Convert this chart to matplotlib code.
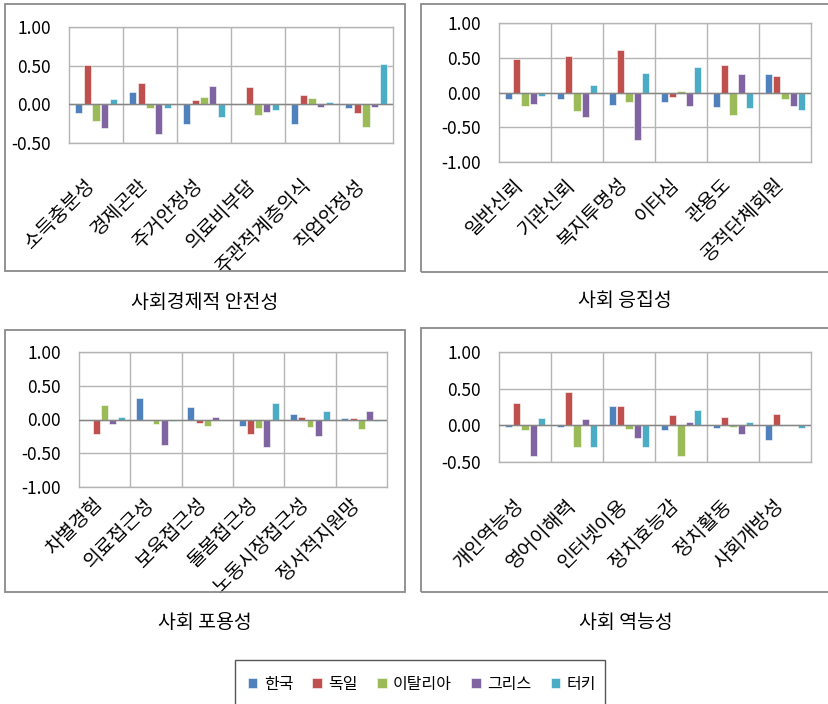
import numpy as np
import matplotlib
matplotlib.use('Agg')
import matplotlib.pyplot as plt
import matplotlib.patches as mpatches
import matplotlib.ticker as ticker

plt.rcParams['font.family'] = ['Noto Sans CJK KR', 'DejaVu Sans']

# 범례 (국가)
countries = ['한국', '독일', '이탈리아', '그리스', '터키']
colors = ['#4F81BD', '#C0504D', '#9BBB59', '#8064A2', '#4BACC6']

# 사회경제적 안전성
cats_1 = ['소득충분성', '경제곤란', '주거안정성', '의료비부담', '주관적계층의식', '직업안정성']
vals_1 = [
    [-0.11, 0.16, -0.26, 0.01, -0.26, -0.05],   # 한국
    [0.51, 0.28, 0.05, 0.22, 0.12, -0.11],      # 독일
    [-0.21, -0.05, 0.09, -0.14, 0.08, -0.29],   # 이탈리아
    [-0.31, -0.39, 0.24, -0.10, -0.04, -0.03],  # 그리스
    [0.07, -0.05, -0.16, -0.07, 0.03, 0.52],    # 터키
]

# 사회 응집성
cats_2 = ['일반신뢰', '기관신뢰', '복지투명성', '이타심', '관용도', '공적단체회원']
vals_2 = [
    [-0.10, -0.10, -0.18, -0.13, -0.21, 0.27],
    [0.48, 0.52, 0.61, -0.06, 0.39, 0.24],
    [-0.19, -0.26, -0.13, 0.02, -0.32, -0.10],
    [-0.17, -0.35, -0.69, -0.20, 0.27, -0.20],
    [-0.05, 0.11, 0.28, 0.36, -0.23, -0.25],
]

# 사회 포용성
cats_3 = ['차별경험', '의료접근성', '보육접근성', '돌봄접근성', '노동시장접근성', '정서적지원망']
vals_3 = [
    [0.00, 0.32, 0.19, -0.10, 0.08, 0.02],
    [-0.21, 0.00, -0.05, -0.22, 0.04, 0.02],
    [0.21, -0.07, -0.10, -0.13, -0.11, -0.14],
    [-0.06, -0.38, 0.03, -0.40, -0.25, 0.13],
    [0.04, -0.02, 0.00, 0.25, 0.13, -0.02],
]

# 사회 역능성
cats_4 = ['개인역능성', '영어이해력', '인터넷이용', '정치효능감', '정치활동', '사회개방성']
vals_4 = [
    [-0.02, -0.02, 0.26, -0.06, -0.04, -0.20],
    [0.30, 0.46, 0.26, 0.14, 0.12, 0.15],
    [-0.06, -0.30, -0.05, -0.42, -0.02, 0.00],
    [-0.42, 0.08, -0.17, 0.04, -0.12, 0.00],
    [0.10, -0.30, -0.29, 0.21, 0.04, -0.03],
]

titles = ['사회경제적 안전성', '사회 응집성', '사회 포용성', '사회 역능성']

W, H = 829, 704
fig = plt.figure(figsize=(W / 100, H / 100), dpi=100)


def px_axes(l, t, r, b):
    return fig.add_axes([l / W, 1 - b / H, (r - l) / W, (b - t) / H])


def px_rect(l, t, r, b, **kw):
    fig.patches.append(mpatches.Rectangle((l / W, 1 - b / H), (r - l) / W, (b - t) / H,
                                          transform=fig.transFigure, fill=False, **kw))


# 패널 테두리
px_rect(5, 4, 405, 271, edgecolor='#8a8a8a', linewidth=1.3)
px_rect(421, 4, 832, 272, edgecolor='#8a8a8a', linewidth=1.3)
px_rect(5, 330, 405, 592, edgecolor='#8a8a8a', linewidth=1.3)
px_rect(421, 328, 832, 592, edgecolor='#8a8a8a', linewidth=1.3)

panels = [
    (cats_1, vals_1, (69, 27, 393, 143), (-0.5, 1.0), 23, (205, 302)),
    (cats_2, vals_2, (499, 23, 811, 162), (-1.0, 1.0), 9, (625, 300)),
    (cats_3, vals_3, (79, 352, 387, 487), (-1.0, 1.0), 5, (205, 622)),
    (cats_4, vals_4, (499, 352, 811, 462), (-0.5, 1.0), 24, (626, 622)),
]

handles = []
for k, (cats, vals, box, ylim, pad, cap) in enumerate(panels):
    ax = px_axes(*box)
    x = np.arange(len(cats))
    for j, (name, c) in enumerate(zip(countries, colors)):
        b = ax.bar(x + (j - 2) * 0.16, vals[j], width=0.135, color=c,
                   edgecolor='white', linewidth=0.4, label=name, zorder=3)
        if k == 0:
            handles.append(b)
    ax.axhline(0, color='#868686', linewidth=1.0, zorder=4)
    ax.set_xlim(-0.5, len(cats) - 0.5)
    ax.set_ylim(*ylim)
    ax.yaxis.set_major_locator(ticker.MultipleLocator(0.5))
    ax.yaxis.set_major_formatter(ticker.FormatStrFormatter('%.2f'))
    ax.set_xticks(x + 0.05)
    ax.set_xticklabels(cats, rotation=45, ha='right', va='top', fontsize=14)
    ax.set_xticks(np.arange(len(cats) - 1) + 0.5, minor=True)
    ax.tick_params(axis='x', which='both', length=0, pad=pad)
    ax.tick_params(axis='y', length=0, pad=13, labelsize=12.5)
    ax.grid(True, axis='y', which='major', color='#b4b4b4', linewidth=1.0, zorder=0)
    ax.grid(True, axis='x', which='minor', color='#b4b4b4', linewidth=1.0, zorder=0)
    for s in ax.spines.values():
        s.set_color('#b4b4b4')
        s.set_linewidth(1.0)
    fig.text(cap[0] / W, 1 - cap[1] / H, titles[k], ha='center', va='center', fontsize=14)

# 범례
px_rect(235, 660, 605, 710, edgecolor='#555555', linewidth=1.0)
fig.legend(handles=handles, labels=countries, loc='center', bbox_to_anchor=(422 / W, 1 - 684 / H),
           ncol=5, frameon=False, fontsize=11.5, handlelength=0.6, handleheight=0.6,
           handletextpad=0.4, columnspacing=1.2)

fig.savefig('out.png', dpi=100)
